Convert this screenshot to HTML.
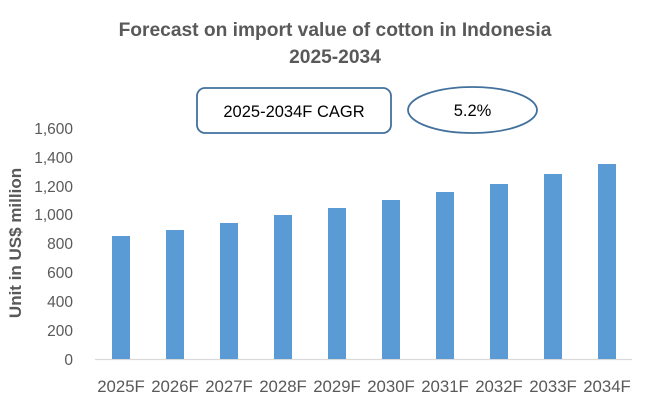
<!DOCTYPE html>
<html><head><meta charset="utf-8"><style>
html,body{margin:0;padding:0;background:#fff;}
svg{display:block;font-family:"Liberation Sans",sans-serif;}
</style></head><body>
<svg width="650" height="408" viewBox="0 0 650 408">
<text x="335" y="36" text-anchor="middle" font-size="19.2" font-weight="bold" fill="#595959">Forecast on import value of cotton in Indonesia</text>
<text x="335" y="63" text-anchor="middle" font-size="19.2" font-weight="bold" fill="#595959">2025-2034</text>
<rect x="197" y="88" width="194" height="45" rx="8" fill="#fff" stroke="#41719C" stroke-width="1.8"/>
<text x="294" y="117" text-anchor="middle" font-size="16.5" fill="#000">2025-2034F CAGR</text>
<ellipse cx="472.5" cy="110" rx="64.5" ry="23" fill="#fff" stroke="#41719C" stroke-width="1.8"/>
<text x="472.5" y="116" text-anchor="middle" font-size="16.5" fill="#000">5.2%</text>
<g font-size="15.5" fill="#595959" text-anchor="end">
<text x="73" y="134">1,600</text>
<text x="73" y="163">1,400</text>
<text x="73" y="192">1,200</text>
<text x="73" y="220">1,000</text>
<text x="73" y="249">800</text>
<text x="73" y="278">600</text>
<text x="73" y="307">400</text>
<text x="73" y="336">200</text>
<text x="73" y="365">0</text>
</g>
<text transform="translate(21,243) rotate(-90)" text-anchor="middle" font-size="17" font-weight="bold" fill="#595959">Unit in US$ million</text>
<line x1="95" y1="359.5" x2="632" y2="359.5" stroke="#D9D9D9" stroke-width="1.2"/>
<g fill="#5B9BD5">
<rect x="112" y="236" width="18" height="123"/>
<rect x="166" y="230" width="18" height="129"/>
<rect x="220" y="223" width="18" height="136"/>
<rect x="274" y="215" width="18" height="144"/>
<rect x="328" y="208" width="18" height="151"/>
<rect x="382" y="200" width="18" height="159"/>
<rect x="436" y="192" width="18" height="167"/>
<rect x="490" y="184" width="18" height="175"/>
<rect x="544" y="174" width="18" height="185"/>
<rect x="598" y="164" width="18" height="195"/>
</g>
<g font-size="16.8" fill="#595959" text-anchor="middle">
<text x="121" y="392">2025F</text>
<text x="175" y="392">2026F</text>
<text x="229" y="392">2027F</text>
<text x="283" y="392">2028F</text>
<text x="337" y="392">2029F</text>
<text x="391" y="392">2030F</text>
<text x="445" y="392">2031F</text>
<text x="499" y="392">2032F</text>
<text x="553" y="392">2033F</text>
<text x="607" y="392">2034F</text>
</g>
</svg>
</body></html>
